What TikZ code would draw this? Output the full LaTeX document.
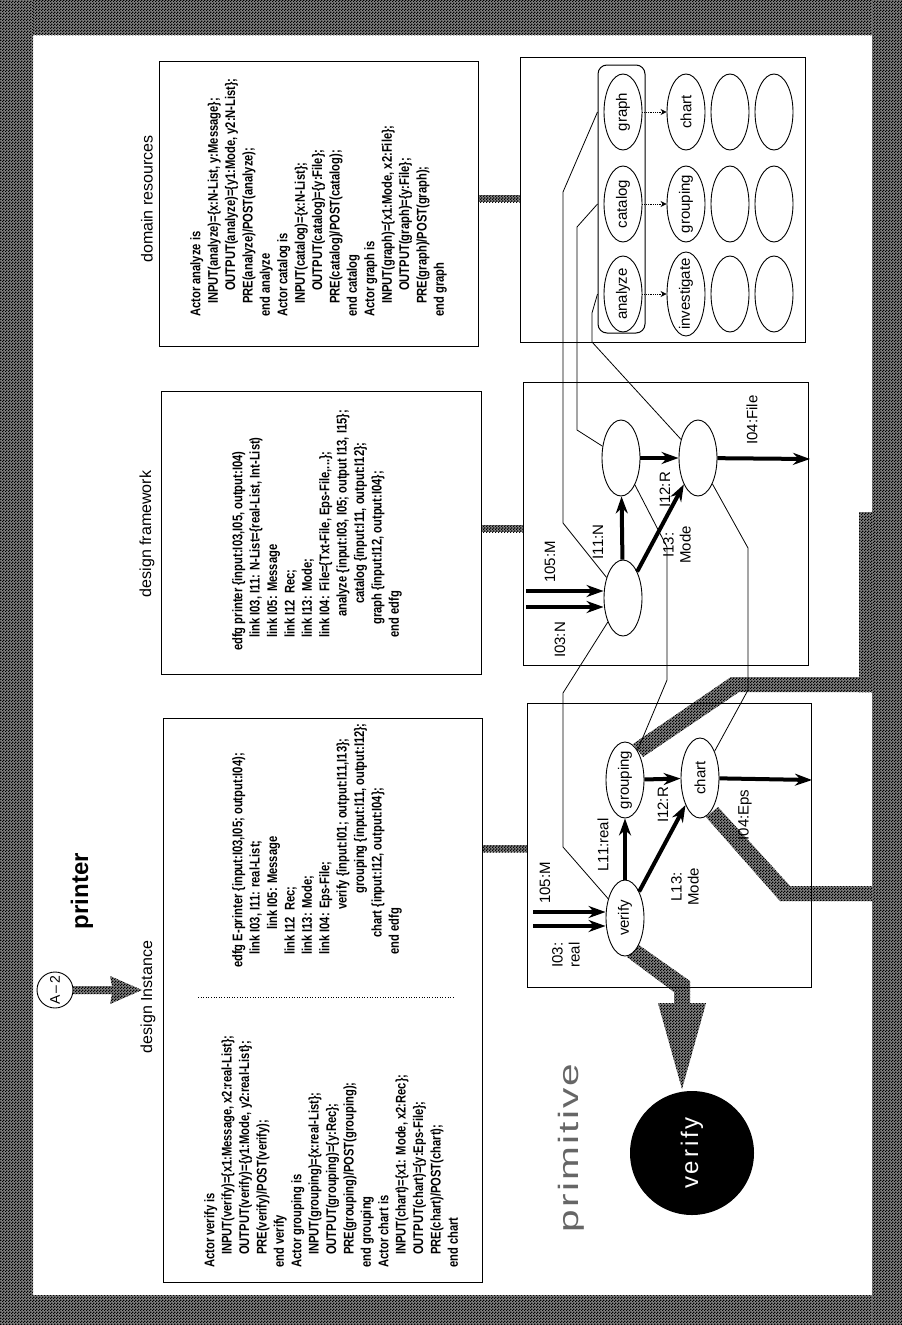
\documentclass[tikz,border=0pt]{standalone}
\usepackage{fontspec}
\setmainfont{Liberation Sans}
\newfontfamily\condfont[FakeStretch=0.8]{Liberation Sans}
\newfontfamily\primfont[FakeStretch=1.45,LetterSpace=8]{Liberation Sans}
\newfontfamily\spacedfont[LetterSpace=12]{Liberation Sans}
\usetikzlibrary{shapes.geometric,arrows.meta,patterns}
\pgfdeclarepatternformonly{checker}{\pgfpointorigin}{\pgfpoint{3pt}{3pt}}{\pgfpoint{3pt}{3pt}}{%
  \pgfpathrectangle{\pgfpointorigin}{\pgfpoint{1.5pt}{1.5pt}}%
  \pgfpathrectangle{\pgfpoint{1.5pt}{1.5pt}}{\pgfpoint{1.5pt}{1.5pt}}%
  \pgfusepath{fill}}
\newcommand{\indsp}[1]{\hspace*{#1pt}}
\newcommand{\lab}[1]{\rotatebox{90}{\makebox[30pt]{#1}}}
\tikzset{
  hatch/.style={preaction={fill=black!50}, pattern=checker, pattern color=black},
  box/.style={draw, line width=1pt, inner sep=0pt},
  codetext/.style={rotate=90, anchor=north west, align=left, inner sep=0pt,
    font=\condfont\bfseries\fontsize{14}{17.4}\selectfont},
  gnode/.style={ellipse, draw, line width=0.9pt, fill=white, minimum width=38pt,
    minimum height=76pt, inner sep=0pt, font=\fontsize{15}{15}\selectfont},
  tarr/.style={line width=4pt, -{Stealth[length=17pt,width=12pt]}},
  conn/.style={line width=0.8pt},
  dotarr/.style={line width=0.8pt, densely dotted, -{Stealth[length=6pt,width=6pt]}},
  elab/.style={rotate=90, inner sep=1pt, align=center, font=\fontsize{15}{17}\selectfont},
  head/.style={rotate=90, inner sep=1pt, font=\fontsize{16}{16}\selectfont}
}
\begin{document}
\begin{tikzpicture}[x=1pt,y=-1pt]
\useasboundingbox (0,0) rectangle (902,1325);
% ---------- border ----------
\path[hatch] (0,0) rectangle (902,35);
\path[hatch] (0,1295) rectangle (902,1325);
\path[hatch] (0,0) rectangle (33,1325);
\path[hatch] (872,0) rectangle (902,1325);
\path[hatch] (859,512) rectangle (873,692);
% ---------- hatched bands ----------
\path[hatch] (633,744) -- (731,677) -- (873,677) -- (873,692) -- (739,692) -- (643,757) -- cycle;
\path[hatch] (718,807) -- (790,886) -- (873,886) -- (873,901) -- (780,901) -- (706,817) -- cycle;
\path[hatch] (636,943) -- (690,981) -- (690,1003) -- (706,1003) -- (682,1089) -- (658,1003) -- (674,1003) -- (674,992) -- (627,957) -- cycle;
% ---------- boxes ----------
\node[box, minimum width=319pt, minimum height=285pt] (dtext) at (318.5,203.5) {};
\node[box, minimum width=320pt, minimum height=283pt] (ftext) at (321,532.5) {};
\node[box, minimum width=319pt, minimum height=564pt] (itext) at (322.5,1000) {};
\node[box, minimum width=285pt, minimum height=285pt] (dpanel) at (662.5,199.5) {};
\node[box, minimum width=285pt, minimum height=283pt] (fpanel) at (665.5,523.5) {};
\node[box, minimum width=284pt, minimum height=284pt] (ipanel) at (669,845) {};
% short hatched connectors
\coordinate (h1a) at (0,195); \coordinate (h1b) at (0,202);
\coordinate (h2a) at (0,525); \coordinate (h2b) at (0,532);
\coordinate (h3a) at (0,845); \coordinate (h3b) at (0,852);
\path[hatch] (dtext.east |- h1a) rectangle (dpanel.west |- h1b);
\path[hatch] (ftext.east |- h2a) rectangle (fpanel.west |- h2b);
\path[hatch] (itext.east |- h3a) rectangle (ipanel.west |- h3b);
% ---------- headings ----------
\node[rotate=90, font=\bfseries\fontsize{24}{24}\selectfont] (title) at (82,891) {printer};
\node[head] (hdom) at (147,199) {domain resources};
\node[head] (hfw) at (147,534) {design framework};
\node[head] (hinst) at (148,997) {design Instance};
\node[circle, draw, line width=0.9pt, fill=white, minimum size=36pt, inner sep=0pt,
  font=\fontsize{14}{14}\selectfont] (a2) at (55,990) {\rotatebox{90}{A\,--\,2}};
\path[hatch] (73,986) -- (112,986) -- (110,976) -- (142,990) -- (110,1004) -- (112,994) -- (73,994) -- cycle;
\draw[line width=0.6pt, dotted] (198,997) -- (454,997);
% ---------- texts ----------
\node[codetext] (dcode) at (190,317) {Actor analyze is\\
\indsp{13}INPUT(analyze)=\{x:N-List, y:Message\};\\
\indsp{26}OUTPUT(analyze)=\{y1:Mode, y2:N-List\};\\
\indsp{13}PRE(analyze)/POST(analyze);\\
end analyze\\
Actor catalog is\\
\indsp{13}INPUT(catalog)=\{x:N-List\};\\
\indsp{26}OUTPUT(catalog)=\{y:File\};\\
\indsp{13}PRE(catalog)/POST(catalog);\\
end catalog\\
Actor graph is\\
\indsp{13}INPUT(graph)=\{x1:Mode, x2:File\};\\
\indsp{26}OUTPUT(graph)=\{y:File\};\\
\indsp{13}PRE(graph)/POST(graph);\\
end graph};
\node[codetext] (fcode) at (232,651) {edfg printer \{input:I03,I05, output:I04)\\
\indsp{13}link I03, I11: N-List=\{real-List, Int-List)\\
\indsp{13}link I05: Message\\
\indsp{13}link I12\ \ Rec;\\
\indsp{13}link I13: Mode;\\
\indsp{13}link I04: File=\{Txt-File, Eps-File,...\};\\
\indsp{34}analyze \{input:I03, I05; output I13, I15\};\\
\indsp{47}catalog \{input:I11, output:I12\};\\
\indsp{26}graph \{input:I12, output:I04\};\\
\indsp{13}end edfg};
\node[codetext] (icode) at (232,968) {edfg E-printer \{input:I03,I05; output:I04);\\
\indsp{13}link I03, I11: real-List;\\
\indsp{38}link I05: Message\\
\indsp{13}link I12\ \ Rec;\\
\indsp{13}link I13: Mode;\\
\indsp{13}link I04: Eps-File;\\
\indsp{58}verify \{input:I01; output:I11,I13\};\\
\indsp{74}grouping \{input:I11, output:I12\};\\
\indsp{30}chart \{input:I12, output:I04\};\\
\indsp{13}end edfg};
\node[codetext] (acode) at (204,1268) {Actor verify is\\
\indsp{13}INPUT(verify)=\{x1:Message, x2:real-List\};\\
\indsp{13}OUTPUT(verify)=\{y1:Mode, y2:real-List\};\\
\indsp{13}PRE(verify)/POST(verify);\\
end verify\\
Actor grouping is\\
\indsp{13}INPUT(grouping)=\{x:real-List\};\\
\indsp{13}OUTPUT(grouping)=\{y:Rec\};\\
\indsp{13}PRE(grouping)/POST(grouping);\\
end grouping\\
Actor chart is\\
\indsp{13}INPUT(chart)=\{x1: Mode, x2:Rec\};\\
\indsp{13}OUTPUT(chart)=\{y:Eps-File\};\\
\indsp{13}PRE(chart)/POST(chart);\\
end chart};
% ---------- domain panel ----------
\node[draw, line width=1pt, rounded corners=9pt, fill=white, minimum width=47pt,
  minimum height=268pt, inner sep=0pt] (dres) at (621.5,199) {};
\node[gnode] (gr) at (623,112) {\lab{graph}};
\node[gnode] (ca) at (623,204) {\lab{catalog}};
\node[gnode] (an) at (623,294) {\lab{analyze}};
\node[gnode] (ch2) at (686,112) {\lab{chart}};
\node[gnode] (gp2) at (686,204) {\lab{grouping}};
\node[gnode, minimum height=84pt] (inv) at (686,294) {\lab{investigate}};
\node[gnode] (e31) at (730,112) {};
\node[gnode] (e32) at (730,204) {};
\node[gnode] (e33) at (730,294) {};
\node[gnode] (e41) at (774,112) {};
\node[gnode] (e42) at (774,204) {};
\node[gnode] (e43) at (774,294) {};
\draw[dotarr] (gr) -- (ch2);
\draw[dotarr] (ca) -- (gp2);
\draw[dotarr] (an) -- (inv);
% ---------- framework panel ----------
\node[gnode] (A) at (623,598) {};
\node[gnode] (B) at (621,458) {};
\node[gnode] (C) at (698,458) {};
% ---------- instance panel ----------
\node[gnode] (v) at (625,918) {\lab{verify}};
\node[gnode] (g) at (625,780) {\lab{grouping}};
\node[gnode, minimum height=80pt] (chn) at (700,778) {\lab{chart}};
\node[circle, fill=black, minimum size=124pt, inner sep=0pt] (prim) at (692,1153)
  {\rotatebox{90}{\color{white}\spacedfont\fontsize{24}{24}\selectfont verify}};
% ---------- thin connections ----------
\draw[conn] (dres.west |- gr) -- (563,192) -- (563,523) -- (A);
\draw[conn] (dres.west |- ca) -- (577,227) -- (577,430) -- (B);
\draw[conn] (dres.west |- an) -- (592,313) -- (592,342) -- (C);
\draw[conn] (A) -- (563,693) -- (563,847) -- (v);
\draw[conn] (B) -- (667,547) -- (667,680) -- (g);
\draw[conn] (C) -- (748,548) -- (748,690) -- (chn);
% ---------- thick arrows ----------
\coordinate (ain1) at (526,591);
\coordinate (ain2) at (526,607);
\coordinate (cout) at (810,459);
\draw[tarr] (ain1) -- (ain1 -| A.west);
\draw[tarr] (ain2) -- (ain2 -| A.west);
\draw[tarr] (A) -- (B);
\draw[tarr] (A) -- (C);
\draw[tarr] (B) -- (C);
\draw[tarr] (C) -- (cout);
\coordinate (vin1) at (533,912);
\coordinate (vin2) at (533,926);
\coordinate (chout) at (812,780);
\draw[tarr] (vin1) -- (vin1 -| v.west);
\draw[tarr] (vin2) -- (vin2 -| v.west);
\draw[tarr] (v) -- (g);
\draw[tarr] (g) -- (chn);
\draw[tarr] (v) -- (chn);
\draw[tarr] (chn) -- (chout);
% ---------- edge labels ----------
\node[elab] at (550,562) {105:M};
\node[elab] at (560,640) {I03:N};
\node[elab] at (598,542) {I11:N};
\node[elab] at (665,490) {I12:R};
\node[elab] at (677,545) {I13:\\Mode};
\node[elab] at (752,420) {I04:File};
\node[elab] at (545,883) {105:M};
\node[elab] at (566,955) {I03:\\real};
\node[elab] at (603,845) {L11:real};
\node[elab] at (663,805) {I12:R};
\node[elab] at (685,887) {L13:\\Mode};
\node[elab] at (745,815) {I04:Eps};
\node[rotate=90, text=black!60, font=\primfont\fontsize{28}{28}\selectfont] (primtxt) at (571,1148) {primitive};
\end{tikzpicture}
\end{document}
